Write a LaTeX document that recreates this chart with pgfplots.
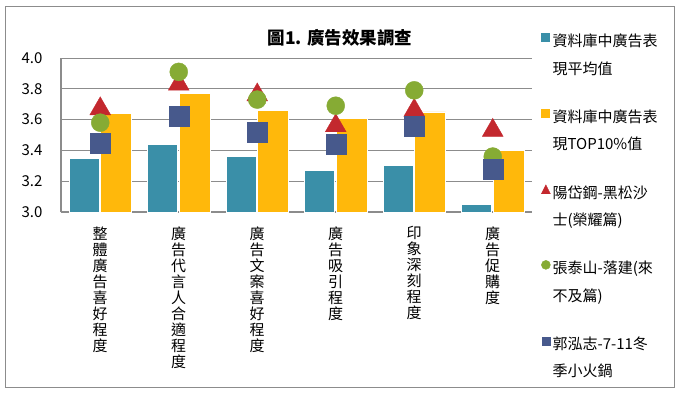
\documentclass[border=0pt]{standalone}
\usepackage{fontspec}
\setmainfont{Noto Sans CJK TC}
\usepackage{pgfplots}
\pgfplotsset{compat=1.18}
\definecolor{cteal}{HTML}{3A8FA8}
\definecolor{cyel}{HTML}{FFB80B}
\definecolor{cred}{HTML}{C3282E}
\definecolor{cgreen}{HTML}{86AB34}
\definecolor{cnavy}{HTML}{47598C}
\definecolor{cgrid}{HTML}{8C8C8C}
\begin{document}
\begin{tikzpicture}
\useasboundingbox (-61bp,-184bp) rectangle (619bp,212bp);
\draw[cgrid, line width=1bp] (-55bp,205bp) rectangle (613bp,-175bp);
\node[font=\bfseries\fontsize{17.5bp}{20bp}\selectfont] at (279bp,174bp) {圖1. 廣告效果調查};
\begin{axis}[
  at={(0,0)}, anchor=south west,
  scale only axis, width=471bp, height=154bp,
  xmin=-0.5, xmax=5.5, ymin=3, ymax=4,
  axis x line=bottom, axis y line=left,
  axis line style={-, cgrid, line width=2.5bp},
  ytick={3,3.2,3.4,3.6,3.8,4},
  ymajorgrids, grid style={cgrid, line width=0.8bp},
  major tick length=0,
  /pgf/number format/assume math mode=true,
  yticklabel style={/pgf/number format/fixed, /pgf/number format/fixed zerofill, /pgf/number format/precision=1, font=\fontsize{15bp}{18bp}\selectfont, xshift=-15bp},
  xtick={0,1,2,3,4,5},
  xticklabels={{整\\體\\廣\\告\\喜\\好\\程\\度},{廣\\告\\代\\言\\人\\合\\適\\程\\度},{廣\\告\\文\\案\\喜\\好\\程\\度},{廣\\告\\吸\\引\\程\\度},{印\\象\\深\\刻\\程\\度},{廣\\告\\促\\購\\度}},
  xticklabel style={align=center, font=\fontsize{15bp}{16bp}\selectfont, anchor=north, yshift=-11bp},
  legend style={at={(rel axis cs:1,1)}, anchor=north west, xshift=6bp, yshift=28bp, draw=none, fill=none, font=\fontsize{15bp}{18bp}\selectfont, cells={align=left}, row sep=30bp},
  legend cell align=left,
  clip=false,
]
\addplot[ybar, bar width=30bp, bar shift=-16bp, fill=cteal, draw=white, line width=0.8bp,
  legend image code/.code={\fill[cteal] (0bp,13.5bp) rectangle (8bp,21.5bp);}]
  coordinates {(0,3.35) (1,3.44) (2,3.36) (3,3.27) (4,3.30) (5,3.05)};
\addlegendentry{資料庫中廣告表\\[9.5bp]現平均值}
\addplot[ybar, bar width=31bp, bar shift=16bp, fill=cyel, draw=white, line width=0.8bp,
  legend image code/.code={\fill[cyel] (0bp,13.5bp) rectangle (8bp,21.5bp);}]
  coordinates {(0,3.64) (1,3.77) (2,3.66) (3,3.61) (4,3.65) (5,3.40)};
\addlegendentry{資料庫中廣告表\\[9.5bp]現TOP10\%值}
\addplot[only marks, mark=triangle*, mark size=12bp, color=cred, mark options={fill=cred, draw=cred},
  legend image code/.code={\fill[cred] (4bp,21.5bp) -- (-0.5bp,12.5bp) -- (8.5bp,12.5bp) -- cycle;}]
  coordinates {(0,3.67) (1,3.83) (2,3.76) (3,3.56) (4,3.66) (5,3.53)};
\addlegendentry{陽岱鋼-黑松沙\\[9.5bp]士(榮耀篇)}
\addplot[only marks, mark=*, mark size=9bp, color=cgreen, mark options={fill=cgreen, draw=cgreen},
  legend image code/.code={\fill[cgreen] (4bp,17bp) circle (4.5bp);}]
  coordinates {(0,3.58) (1,3.91) (2,3.73) (3,3.69) (4,3.79) (5,3.36)};
\addlegendentry{張泰山-落建(來\\[9.5bp]不及篇)}
\addplot[only marks, mark=square*, mark size=10bp, color=cnavy, mark options={fill=cnavy, draw=cnavy},
  legend image code/.code={\fill[cnavy] (0bp,12.5bp) rectangle (8bp,20.5bp);}]
  coordinates {(0,3.45) (1,3.62) (2,3.52) (3,3.44) (4,3.56) (5,3.28)};
\addlegendentry{郭泓志-7-11冬\\[9.5bp]季小火鍋}
\end{axis}
\end{tikzpicture}
\end{document}
